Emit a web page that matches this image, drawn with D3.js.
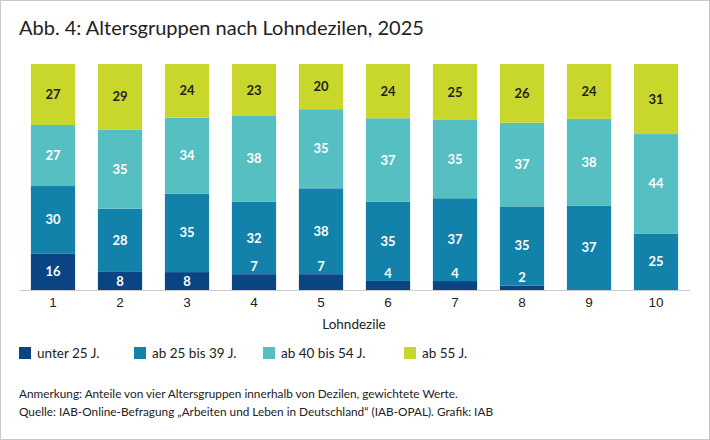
<!DOCTYPE html>
<html><head><meta charset="utf-8">
<script src="https://cdn.jsdelivr.net/npm/d3@7"></script>
<style>
body{margin:0;background:#fff;font-family:"Source Sans Pro","Lato","Open Sans",sans-serif;}
</style></head>
<body>
<svg id="chart" width="710" height="440"></svg>
<script>
var deciles = ['1','2','3','4','5','6','7','8','9','10'];
var groups = ['unter 25 J.', 'ab 25 bis 39 J.', 'ab 40 bis 54 J.', 'ab 55 J.'];
var under25 = [16, 8, 8, 7, 7, 4, 4, 2, 0, 0];
var age25to39 = [30, 28, 35, 32, 38, 35, 37, 35, 37, 25];
var age40to54 = [27, 35, 34, 38, 35, 37, 35, 37, 38, 44];
var over55 = [27, 29, 24, 23, 20, 24, 25, 26, 24, 31];
var colors = ['#0b4482', '#1382ab', '#56bfc1', '#c9d72c'];

var series = [under25, age25to39, age40to54, over55];
var rows = deciles.map(function (d, i) {
    var r = {decile: d};
    groups.forEach(function (g, j) { r[g] = series[j][i]; });
    return r;
});

var svg = d3.select('#chart');
svg.append('rect').attr('x', 0.5).attr('y', 0.5).attr('width', 709).attr('height', 439)
    .attr('fill', '#fff').attr('stroke', '#c8c8c8');

svg.append('text').attr('x', 19).attr('y', 35).attr('font-size', 20).attr('fill', '#222')
    .text('Abb. 4: Altersgruppen nach Lohndezilen, 2025');

var x = d3.scaleBand().domain(deciles).range([19.5, 689.5]).paddingInner(0.34).paddingOuter(0.17);
var y = d3.scaleLinear().domain([0, 1]).range([290, 64]);

var stacked = d3.stack().keys(groups).offset(d3.stackOffsetExpand)(rows);

var layer = svg.selectAll('g.layer').data(stacked).enter().append('g')
    .attr('fill', function (d, i) { return colors[i]; });

layer.selectAll('rect').data(function (d) { return d; }).enter().append('rect')
    .attr('x', function (d) { return x(d.data.decile); })
    .attr('width', x.bandwidth())
    .attr('y', function (d) { return y(d[1]); })
    .attr('height', function (d) { return y(d[0]) - y(d[1]); });

stacked.forEach(function (s, j) {
    s.forEach(function (d) {
        var v = d.data[s.key];
        if (!v) return;
        var top = y(d[1]), bot = y(d[0]);
        var cy = (bot - top) < 16 ? top - 8 : (top + bot) / 2;
        svg.append('text')
            .attr('x', x(d.data.decile) + x.bandwidth() / 2)
            .attr('y', cy).attr('dy', '0.35em')
            .attr('text-anchor', 'middle').attr('font-size', 13).attr('font-weight', 'bold')
            .attr('fill', j === 3 ? '#222' : '#fff')
            .text(v);
    });
});

var axis = svg.append('g').attr('transform', 'translate(0,290)')
    .call(d3.axisBottom(x).tickSize(0).tickPadding(7));
axis.select('.domain').attr('stroke', '#ccc');
axis.selectAll('text').attr('font-size', 13.5).attr('fill', '#222').attr('font-family', 'inherit');

svg.append('text').attr('x', 354).attr('y', 329).attr('text-anchor', 'middle')
    .attr('font-size', 13.5).attr('fill', '#222').text('Lohndezile');

var legX = [19, 134, 263, 404];
var leg = svg.selectAll('g.leg').data(groups).enter().append('g')
    .attr('transform', function (d, i) { return 'translate(' + legX[i] + ',347)'; });
leg.append('rect').attr('width', 12).attr('height', 12)
    .attr('fill', function (d, i) { return colors[i]; });
leg.append('text').attr('x', 18).attr('y', 11).attr('font-size', 13.5).attr('fill', '#222')
    .text(function (d) { return d; });

svg.append('text').attr('x', 19).attr('y', 398).attr('font-size', 11.8).attr('fill', '#222')
    .text('Anmerkung: Anteile von vier Altersgruppen innerhalb von Dezilen, gewichtete Werte.');
svg.append('text').attr('x', 19).attr('y', 416).attr('font-size', 11.8).attr('fill', '#222')
    .text('Quelle: IAB-Online-Befragung \u201eArbeiten und Leben in Deutschland\u201c (IAB-OPAL). Grafik: IAB');
</script>
</body></html>
